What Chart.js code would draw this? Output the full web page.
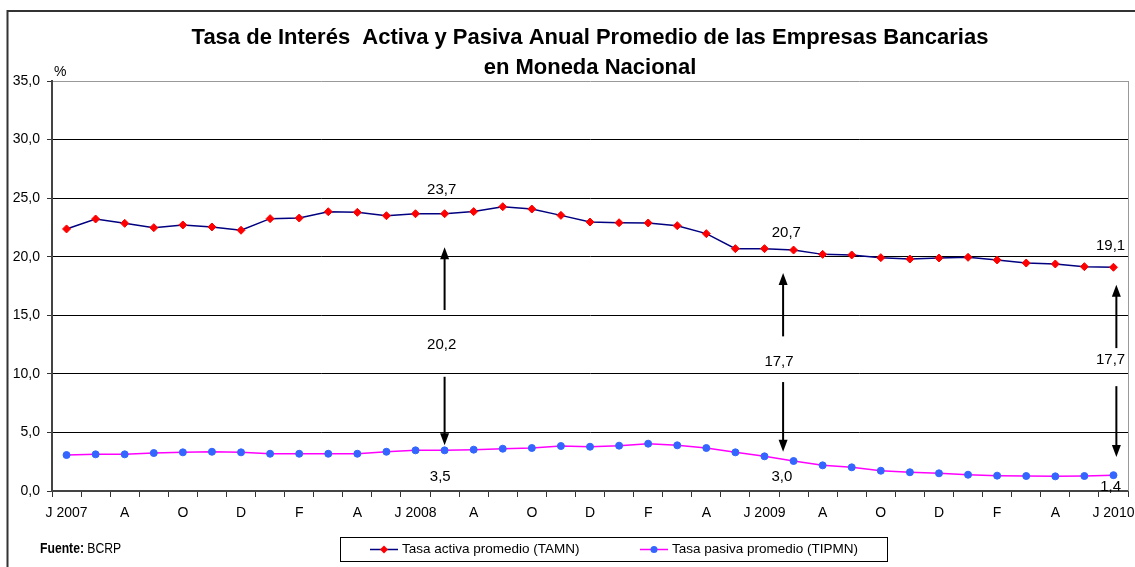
<!DOCTYPE html>
<html>
<head>
<meta charset="utf-8">
<script src="https://cdn.jsdelivr.net/npm/chart.js@4.4.0/dist/chart.umd.min.js"></script>
<style>
  html, body { margin: 0; padding: 0; background: #fff; }
  #wrap { width: 1135px; height: 567px; }
</style>
</head>
<body>
<div id="wrap"><canvas id="chart" width="1135" height="567"></canvas></div>
<script>
// monthly series, Jun 2007 - Jun 2010
const months = [
  'Jun 07', 'Jul 07', 'Ago 07', 'Sep 07', 'Oct 07', 'Nov 07', 'Dic 07',
  'Ene 08', 'Feb 08', 'Mar 08', 'Abr 08', 'May 08', 'Jun 08', 'Jul 08', 'Ago 08', 'Sep 08', 'Oct 08', 'Nov 08', 'Dic 08',
  'Ene 09', 'Feb 09', 'Mar 09', 'Abr 09', 'May 09', 'Jun 09', 'Jul 09', 'Ago 09', 'Sep 09', 'Oct 09', 'Nov 09', 'Dic 09',
  'Ene 10', 'Feb 10', 'Mar 10', 'Abr 10', 'May 10', 'Jun 10'
];
const tickLabels = ['J 2007', 'A', 'O', 'D', 'F', 'A', 'J 2008', 'A', 'O', 'D', 'F', 'A', 'J 2009', 'A', 'O', 'D', 'F', 'A', 'J 2010'];

const tamn = [22.37, 23.22, 22.85, 22.48, 22.71, 22.54, 22.26, 23.25, 23.3, 23.84, 23.79, 23.5, 23.67, 23.67, 23.85, 24.27, 24.07, 23.53, 22.96, 22.9, 22.88, 22.65, 21.97, 20.69, 20.69, 20.57, 20.2, 20.15, 19.92, 19.8, 19.89, 19.95, 19.72, 19.46, 19.38, 19.15, 19.1];
const tipmn = [3.07, 3.13, 3.13, 3.24, 3.3, 3.35, 3.3, 3.18, 3.18, 3.18, 3.18, 3.35, 3.47, 3.47, 3.53, 3.61, 3.67, 3.84, 3.78, 3.87, 4.04, 3.9, 3.67, 3.3, 2.96, 2.56, 2.19, 2.02, 1.73, 1.6, 1.51, 1.39, 1.31, 1.28, 1.25, 1.28, 1.35];

// spread callouts: active rate, spread, passive rate
const calloutTop = ['23,7', '20,7', '19,1'];
const calloutSpread = ['20,2', '17,7', '17,7'];
const calloutBottom = ['3,5', '3,0', '1,4'];

const FONT = "'Liberation Sans', Arial, sans-serif";
const fmt = v => v.toFixed(1).replace('.', ',');

function arrow(ctx, x, y1, y2) {
  // line from y1 to y2, head at y2
  const dir = y2 < y1 ? -1 : 1;
  ctx.beginPath();
  ctx.moveTo(x, y1);
  ctx.lineTo(x, y2 - dir * 10);
  ctx.stroke();
  ctx.beginPath();
  ctx.moveTo(x, y2);
  ctx.lineTo(x - 4.5, y2 - dir * 12);
  ctx.lineTo(x + 4.5, y2 - dir * 12);
  ctx.closePath();
  ctx.fill();
}

const decor = {
  id: 'decor',
  beforeDraw(chart) {
    const ctx = chart.ctx;
    ctx.save();
    ctx.fillStyle = '#fff';
    ctx.fillRect(0, 0, chart.width, chart.height);
    ctx.strokeStyle = '#333';
    ctx.lineWidth = 2;
    ctx.beginPath();
    ctx.moveTo(chart.width + 5, 11);
    ctx.lineTo(7.5, 11);
    ctx.lineTo(7.5, chart.height + 5);
    ctx.stroke();
    ctx.restore();
  },
  afterDraw(chart) {
    const ctx = chart.ctx;
    const { left, right, top, bottom } = chart.chartArea;
    const xs = chart.scales.x, ys = chart.scales.y;
    ctx.save();

    // right frame of plot area
    ctx.strokeStyle = '#999';
    ctx.lineWidth = 1;
    ctx.beginPath();
    ctx.moveTo(right + 0.5, top);
    ctx.lineTo(right + 0.5, bottom);
    ctx.stroke();

    // title
    const cx = (left + right) / 2;
    ctx.fillStyle = '#000';
    ctx.textAlign = 'center';
    ctx.textBaseline = 'alphabetic';
    ctx.font = 'bold 22px ' + FONT;
    ctx.fillText('Tasa de Interés  Activa y Pasiva Anual Promedio de las Empresas Bancarias', cx, 44);
    ctx.fillText('en Moneda Nacional', cx, 74);

    // unit
    ctx.font = '14px ' + FONT;
    ctx.textAlign = 'left';
    ctx.fillText('%', left + 2, 76);

    // callouts
    const groups = [
      { x: 13, tx: 12.9, top: 25.7, up: [15.45, 20.8], mid: 12.5, down: [9.75, 3.9], bot: 1.2, bx: 12.85 },
      { x: 24.64, tx: 24.75, top: 22.0, up: [13.2, 18.6], mid: 11.0, down: [9.3, 3.35], bot: 1.2, bx: 24.6, mx: 24.5 },
      { x: 36.1, tx: 35.9, top: 20.9, up: [12.2, 17.6], mid: 11.2, down: [8.95, 2.9], bot: 0.35, bx: 35.9 }
    ];
    ctx.font = '15px ' + FONT;
    ctx.textAlign = 'center';
    ctx.textBaseline = 'middle';
    ctx.lineWidth = 2;
    ctx.strokeStyle = '#000';
    groups.forEach((g, i) => {
      const px = xs.getPixelForValue(g.x);
      ctx.fillText(calloutTop[i], xs.getPixelForValue(g.tx), ys.getPixelForValue(g.top));
      ctx.fillText(calloutSpread[i], xs.getPixelForValue(g.mx !== undefined ? g.mx : g.tx), ys.getPixelForValue(g.mid));
      ctx.fillText(calloutBottom[i], xs.getPixelForValue(g.bx), ys.getPixelForValue(g.bot));
      arrow(ctx, px, ys.getPixelForValue(g.up[0]), ys.getPixelForValue(g.up[1]));
      arrow(ctx, px, ys.getPixelForValue(g.down[0]), ys.getPixelForValue(g.down[1]));
    });

    // legend
    const lx = 340, ly = 537, lw = 547, lh = 24;
    ctx.lineWidth = 1;
    ctx.strokeStyle = '#000';
    ctx.strokeRect(lx + 0.5, ly + 0.5, lw, lh);
    const items = chart.data.datasets;
    const itemX = [370, 640];
    ctx.font = '13.5px ' + FONT;
    ctx.textAlign = 'left';
    items.forEach((ds, i) => {
      const x0 = itemX[i], yc = ly + lh / 2 + 0.5;
      ctx.strokeStyle = ds.borderColor;
      ctx.lineWidth = 1.5;
      ctx.beginPath();
      ctx.moveTo(x0, yc);
      ctx.lineTo(x0 + 28, yc);
      ctx.stroke();
      ctx.fillStyle = ds.pointBackgroundColor;
      ctx.beginPath();
      if (ds.pointStyle === 'rectRot') {
        ctx.moveTo(x0 + 14, yc - 4);
        ctx.lineTo(x0 + 18, yc);
        ctx.lineTo(x0 + 14, yc + 4);
        ctx.lineTo(x0 + 10, yc);
        ctx.closePath();
      } else {
        ctx.arc(x0 + 14, yc, 3.5, 0, Math.PI * 2);
      }
      ctx.fill();
      ctx.fillStyle = '#000';
      ctx.fillText(ds.label, x0 + 32, yc);
    });

    // source (narrow face in the original)
    ctx.translate(40, 549);
    ctx.scale(0.84, 1);
    ctx.textBaseline = 'middle';
    ctx.font = 'bold 14.5px ' + FONT;
    ctx.fillText('Fuente:', 0, 0);
    const w = ctx.measureText('Fuente: ').width;
    ctx.font = '14.5px ' + FONT;
    ctx.fillText('BCRP', w, 0);
    ctx.restore();
  }
};

new Chart(document.getElementById('chart'), {
  type: 'line',
  data: {
    labels: months,
    datasets: [
      {
        label: 'Tasa activa promedio (TAMN)',
        data: tamn,
        borderColor: '#000080',
        borderWidth: 1.5,
        pointStyle: 'rectRot',
        pointRadius: 4,
        pointBackgroundColor: '#FF0000',
        pointBorderColor: '#FF0000',
        pointBorderWidth: 1,
        tension: 0
      },
      {
        label: 'Tasa pasiva promedio (TIPMN)',
        data: tipmn,
        borderColor: '#FF00FF',
        borderWidth: 1.5,
        pointStyle: 'circle',
        pointRadius: 3.5,
        pointBackgroundColor: '#3366FF',
        pointBorderColor: '#3366FF',
        pointBorderWidth: 1,
        tension: 0
      }
    ]
  },
  options: {
    responsive: false,
    animation: false,
    layout: { padding: { left: 7, top: 81, right: 7, bottom: 0 } },
    plugins: {
      legend: { display: false },
      title: { display: false },
      tooltip: { enabled: false }
    },
    scales: {
      x: {
        offset: true,
        afterFit: s => { s.height = 76; s.paddingLeft = 0; s.paddingRight = 0; },
        grid: { display: true, drawOnChartArea: false, drawTicks: true, tickLength: 6, tickColor: '#333', offset: true },
        border: { display: true, color: '#444', width: 2 },
        ticks: {
          autoSkip: false,
          maxRotation: 0,
          padding: 8,
          color: '#000',
          font: { family: FONT, size: 14 },
          callback: (v, i) => (i % 2 === 0 ? tickLabels[i / 2] : '')
        }
      },
      y: {
        min: 0,
        max: 35,
        afterFit: s => { s.width = 45; },
        grid: {
          color: c => (c.tick && c.tick.value === 35 ? '#999' : '#000'),
          tickColor: '#333',
          tickLength: 5,
          lineWidth: 1
        },
        border: { display: true, color: '#444', width: 2 },
        ticks: {
          stepSize: 5,
          padding: 7,
          color: '#000',
          font: { family: FONT, size: 14 },
          callback: v => fmt(v)
        }
      }
    }
  },
  plugins: [decor]
});
</script>
</body>
</html>
